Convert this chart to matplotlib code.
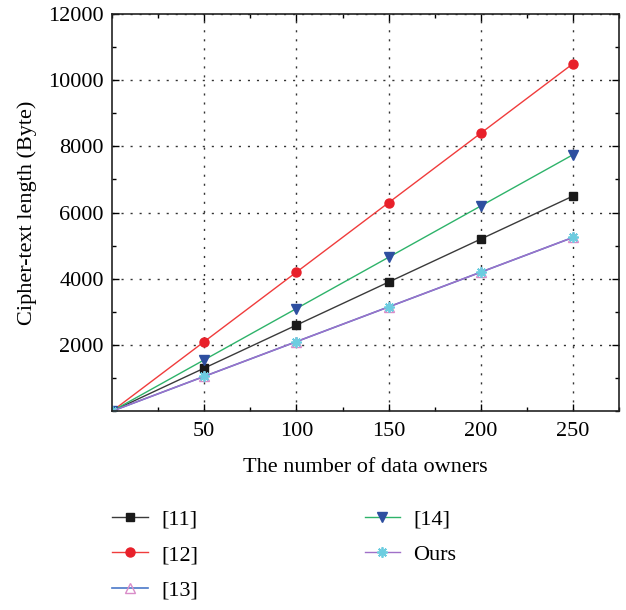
import matplotlib
matplotlib.use("Agg")
import matplotlib.pyplot as plt
from matplotlib.ticker import MultipleLocator

plt.rcParams['font.family'] = ['Liberation Serif', 'DejaVu Serif']

x = [0, 50, 100, 150, 200, 250]
s11 = [0, 1300, 2600, 3900, 5200, 6500]
s12 = [0, 2100, 4200, 6300, 8400, 10500]
s13 = [0, 1050, 2100, 3150, 4200, 5250]
s14 = [0, 1550, 3100, 4650, 6200, 7750]
ours = [0, 1050, 2100, 3150, 4200, 5250]
labels = ['[11]', '[12]', '[13]', '[14]', 'Ours']
xticks = [50, 100, 150, 200, 250]
yticks = [2000, 4000, 6000, 8000, 10000, 12000]

fig = plt.figure(figsize=(6.26, 6.1), dpi=100)
ax = fig.add_axes([0.179, 0.326, 0.81, 0.651])

h1, = ax.plot(x, s11, color='#3a3a3a', lw=1.0, marker='s', ms=6, mfc='#1a1a1a', mec='#1a1a1a', label=labels[0])
h2, = ax.plot(x, s12, color='#f03c3c', lw=1.0, marker='o', ms=6.5, mfc='#e8202a', mec='#e8202a', label=labels[1])
h3, = ax.plot(x, s13, color='#4a78c8', lw=1.2, marker='^', ms=7, mfc='none', mec='#d98cc8', mew=1.0, label=labels[2])
h4, = ax.plot(x, s14, color='#2eb36a', lw=1.0, marker='v', ms=7, mfc='#2e4fa0', mec='#2e4fa0', label=labels[3])
h5, = ax.plot(x, ours, color='#a070c8', lw=1.0, marker=(8, 2, 0), ms=7.5, mfc='#6ccde0', mec='#6ccde0', mew=1.3, label=labels[4])

ax.set_xlim(0, 275)
ax.set_ylim(0, 12000)
ax.set_xticks(xticks)
ax.set_yticks(yticks)
ax.xaxis.set_minor_locator(MultipleLocator(25))
ax.yaxis.set_minor_locator(MultipleLocator(1000))
ax.tick_params(which='both', direction='in', top=True, right=True, labelsize=16)
ax.tick_params(which='major', length=5, width=1)
ax.tick_params(which='minor', length=3, width=1)
ax.tick_params(axis='x', pad=8)
ax.tick_params(axis='y', pad=6)
ax.grid(True, which='major', linestyle=(0, (1.5, 5)), color='#333333', lw=1.0)
for sp in ax.spines.values():
    sp.set_linewidth(1.2)
    sp.set_color('#222222')

ax.set_xlabel('The number of data owners', fontsize=16, labelpad=12)
ax.set_ylabel('Cipher-text length (Byte)', fontsize=16, labelpad=8)

fig.legend(handles=[h1, h2, h3, h4, h5], loc='upper left', bbox_to_anchor=(0.179, 0.165),
           ncol=2, frameon=False, fontsize=16, handlelength=1.6, columnspacing=7.5,
           labelspacing=0.66, handletextpad=0.6, borderpad=0, borderaxespad=0)

fig.savefig('out.png', dpi=100)
